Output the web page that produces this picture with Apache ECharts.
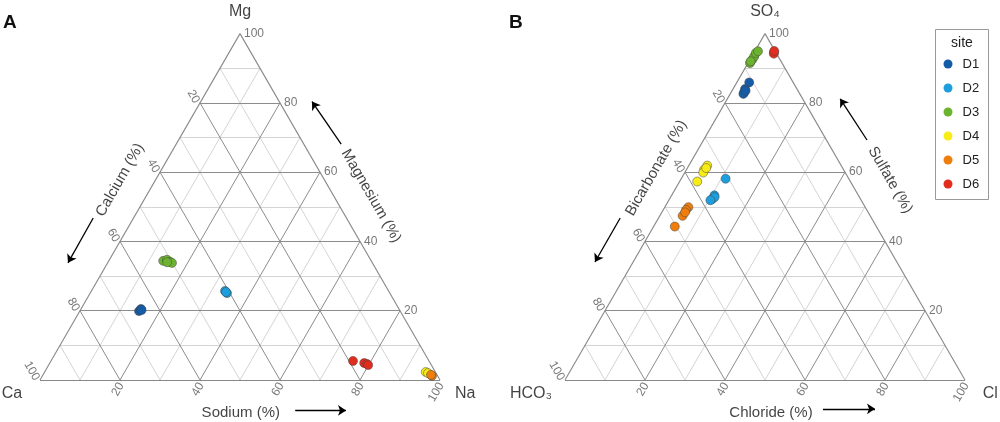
<!DOCTYPE html>
<html>
<head>
<meta charset="utf-8">
<script src="https://cdn.jsdelivr.net/npm/echarts@6/dist/echarts.min.js"></script>
<style>
  html, body { margin: 0; padding: 0; background: #fff; }
  #chart { width: 1000px; height: 422px; }
</style>
</head>
<body>
<div id="chart"></div>
<script>
// sites and colours
var sites = ['D1', 'D2', 'D3', 'D4', 'D5', 'D6'];
var siteColors = ['#155ca8', '#1d9fdd', '#6cb32f', '#f8ec17', '#ef7e0c', '#e22c1d'];

// cations, each sample [Ca, Mg, Na] in %
var cationD1 = [[65.3, 19.9, 14.8], [64.5, 20.5, 15.0], [64.5, 20.2, 15.3]];
var cationD2 = [[40.9, 25.7, 33.4], [40.7, 25.1, 34.2], [40.8, 25.4, 33.8]];
var cationD3 = [[52.0, 34.4, 13.6], [50.9, 34.7, 14.4], [50.4, 34.1, 15.5], [50.1, 33.8, 16.1], [51.2, 34.0, 14.8]];
var cationD4 = [[2.4, 2.3, 95.3], [2.0, 2.0, 96.0]];
var cationD5 = [[1.4, 1.2, 97.4], [1.5, 1.5, 97.0]];
var cationD6 = [[19.0, 5.5, 75.5], [16.5, 4.9, 78.6], [15.9, 4.6, 79.5], [15.8, 4.3, 79.9]];

// anions, each sample [HCO3, SO4, Cl] in %
var anionD1 = [[11.0, 85.9, 3.1], [13.0, 84.0, 3.0], [13.75, 83.0, 3.25], [14.1, 82.6, 3.3], [13.1, 83.5, 3.4]];
var anionD2 = [[30.8, 58.1, 11.1], [36.0, 53.3, 10.7], [37.1, 52.2, 10.7], [36.2, 52.8, 11.0], [37.7, 51.9, 10.4]];
var anionD3 = [[8.0, 91.5, 0.5], [6.9, 92.5, 0.6], [6.0, 93.4, 0.6], [5.1, 94.4, 0.5], [4.3, 94.9, 0.8], [7.6, 92.0, 0.4]];
var anionD4 = [[33.5, 61.9, 4.6], [34.9, 60.7, 4.4], [35.5, 59.9, 4.6], [38.3, 57.3, 4.4], [34.1, 61.2, 4.7]];
var anionD5 = [[44.2, 49.9, 5.9], [45.2, 49.1, 5.7], [46.9, 47.4, 5.7], [50.4, 44.3, 5.3], [45.8, 48.4, 5.8]];
var anionD6 = [[0.45, 94.6, 4.95], [0.7, 94.2, 5.1], [0.2, 95.0, 4.8]];

var cations = [cationD1, cationD2, cationD3, cationD4, cationD5, cationD6];
var anions = [anionD1, anionD2, anionD3, anionD4, anionD5, anionD6];

// axis ticks
var tickValues = [20, 40, 60, 80, 100];
var majorLines = [20, 40, 60, 80];
var minorLines = [10, 30, 50, 70, 90];

var H = Math.sqrt(3) / 2;
var FONT = 'Liberation Sans, Arial, sans-serif';

// ternary [left, top, right] -> cartesian [x, y]
function tern(a, b, c) {
  var s = a + b + c;
  return [(c + b / 2) / s * 100, b / s * 100 * H];
}

function gridLines(values) {
  var out = [];
  values.forEach(function (v) {
    out.push({ coords: [tern(100 - v, v, 0), tern(0, v, 100 - v)] });
    out.push({ coords: [tern(100 - v, 0, v), tern(0, 100 - v, v)] });
    out.push({ coords: [tern(v, 0, 100 - v), tern(v, 100 - v, 0)] });
  });
  return out;
}

function linesSeries(idx, data, color, width) {
  return {
    type: 'lines', coordinateSystem: 'cartesian2d', xAxisIndex: idx, yAxisIndex: idx,
    polyline: false, silent: true, clip: false, symbol: 'none',
    lineStyle: { color: color, width: width, opacity: 1 },
    data: data
  };
}

function textSeries(idx, data) {
  return {
    type: 'scatter', xAxisIndex: idx, yAxisIndex: idx, symbolSize: 0, silent: true, clip: false,
    label: { show: true, position: 'inside', fontFamily: FONT, color: '#555', fontSize: 12 },
    data: data
  };
}

function tickLabels() {
  var d = [];
  tickValues.forEach(function (v) {
    var p = tern(100 - v, 0, v);
    d.push({ value: [p[0] + 0.3, p[1] - 0.9], label: { formatter: String(v), rotate: 60, align: 'right', verticalAlign: 'middle' } });
    p = tern(v, 100 - v, 0);
    d.push({ value: [p[0] - 0.8, p[1] + 0.1], label: { formatter: String(v), rotate: -60, align: 'right', verticalAlign: 'middle' } });
    p = tern(0, v, 100 - v);
    d.push({ value: [p[0] + 1.0, p[1]], label: { formatter: String(v), align: 'left', verticalAlign: 'middle' } });
  });
  return d;
}

function titleLabels(names) {
  var big = { color: '#111', fontSize: 16, align: 'center', verticalAlign: 'middle' };
  var mid = { color: '#111', fontSize: 15, align: 'center', verticalAlign: 'middle' };
  return [
    { value: [50, 92], label: Object.assign({ formatter: names.top }, big) },
    { value: [names.leftX, -3.5], label: Object.assign({ formatter: names.left }, big) },
    { value: [106.3, -3.3], label: Object.assign({ formatter: names.right }, big) },
    { value: [names.bottomX, -8.2], label: Object.assign({ formatter: names.bottomTitle }, mid) },
    { value: [names.leftTitle[0], names.leftTitle[1]], label: Object.assign({ formatter: names.leftTitleText, rotate: 60 }, mid) },
    { value: [names.rightTitle[0], names.rightTitle[1]], label: Object.assign({ formatter: names.rightTitleText, rotate: -60 }, mid) }
  ];
}

function arrowSeries(idx, arrows) {
  return {
    type: 'lines', coordinateSystem: 'cartesian2d', xAxisIndex: idx, yAxisIndex: idx,
    polyline: false, silent: true, clip: false,
    symbol: ['none', 'arrow'], symbolSize: 8,
    lineStyle: { color: '#000', width: 1.3, opacity: 1 },
    data: arrows.map(function (a) { return { coords: a }; })
  };
}

var series = [];
[0, 1].forEach(function (idx) {
  series.push(linesSeries(idx, gridLines(minorLines), '#cfcfcf', 0.9));
  series.push(linesSeries(idx, gridLines(majorLines), '#8c8c8c', 1));
  series.push(linesSeries(idx, [
    { coords: [tern(100, 0, 0), tern(0, 0, 100)] },
    { coords: [tern(0, 0, 100), tern(0, 100, 0)] },
    { coords: [tern(0, 100, 0), tern(100, 0, 0)] }
  ], '#888', 1.1));
  series.push(textSeries(idx, tickLabels()));
});

series.push(textSeries(0, titleLabels({
  top: 'Mg', left: 'Ca', right: 'Na', leftX: -7,
  bottomTitle: 'Sodium (%)', bottomX: 50.2,
  leftTitleText: 'Calcium (%)', leftTitle: [20, 50],
  rightTitleText: 'Magnesium (%)', rightTitle: [82.8, 46]
})));
series.push(textSeries(1, titleLabels({
  top: 'SO₄', left: 'HCO₃', right: 'Cl', leftX: -8.5,
  bottomTitle: 'Chloride (%)', bottomX: 51.5,
  leftTitleText: 'Bicarbonate (%)', leftTitle: [22.8, 53],
  rightTitleText: 'Sulfate (%)', rightTitle: [81.3, 50]
})));
series.push(arrowSeries(0, [
  [[63.8, -7.6], [76.5, -7.6]],
  [[13.3, 40.5], [7.0, 29.3]],
  [[75.3, 59.0], [68.0, 69.6]]
]));
series.push(arrowSeries(1, [
  [[64.5, -7.2], [77.5, -7.2]],
  [[13.8, 40.5], [7.5, 29.5]],
  [[75.5, 60.0], [68.8, 70.3]]
]));

// sample points
sites.forEach(function (name, i) {
  [cations[i], anions[i]].forEach(function (samples, idx) {
    series.push({
      name: name, type: 'scatter', xAxisIndex: idx, yAxisIndex: idx, clip: false,
      symbolSize: 9,
      itemStyle: { color: siteColors[i], borderColor: '#444', borderWidth: 0.5, opacity: 1 },
      data: samples.map(function (s) { return tern(s[0], s[1], s[2]); }),
      z: 5
    });
  });
});

var myChart = echarts.init(document.getElementById('chart'));
myChart.setOption({
  backgroundColor: '#fff',
  animation: false,
  grid: [
    { left: 40, top: 33.6, width: 400, height: 346.41 },
    { left: 565, top: 33.6, width: 400, height: 346.41 }
  ],
  xAxis: [
    { gridIndex: 0, type: 'value', min: 0, max: 100, show: false },
    { gridIndex: 1, type: 'value', min: 0, max: 100, show: false }
  ],
  yAxis: [
    { gridIndex: 0, type: 'value', min: 0, max: 100 * H, show: false },
    { gridIndex: 1, type: 'value', min: 0, max: 100 * H, show: false }
  ],
  legend: {
    data: sites,
    orient: 'vertical',
    left: 943.5,
    top: 52,
    padding: 0,
    itemGap: 0,
    itemWidth: 9,
    itemHeight: 9,
    icon: 'circle',
    itemStyle: { borderWidth: 0 },
    textStyle: { fontFamily: FONT, fontSize: 13, color: '#222', lineHeight: 24, height: 24, padding: [0, 0, 0, 5] }
  },
  graphic: [
    { type: 'text', left: 3, top: 13, style: { text: 'A', font: 'bold 19px ' + FONT, fill: '#111' } },
    { type: 'text', left: 509, top: 13, style: { text: 'B', font: 'bold 19px ' + FONT, fill: '#111' } },
    { type: 'rect', shape: { x: 935.5, y: 29.5, width: 53, height: 170 }, style: { fill: 'none', stroke: '#999', lineWidth: 1 } },
    { type: 'text', x: 962, y: 43, style: { text: 'site', font: '14px ' + FONT, fill: '#222', align: 'center', verticalAlign: 'middle' } }
  ],
  series: series
});
</script>
</body>
</html>
